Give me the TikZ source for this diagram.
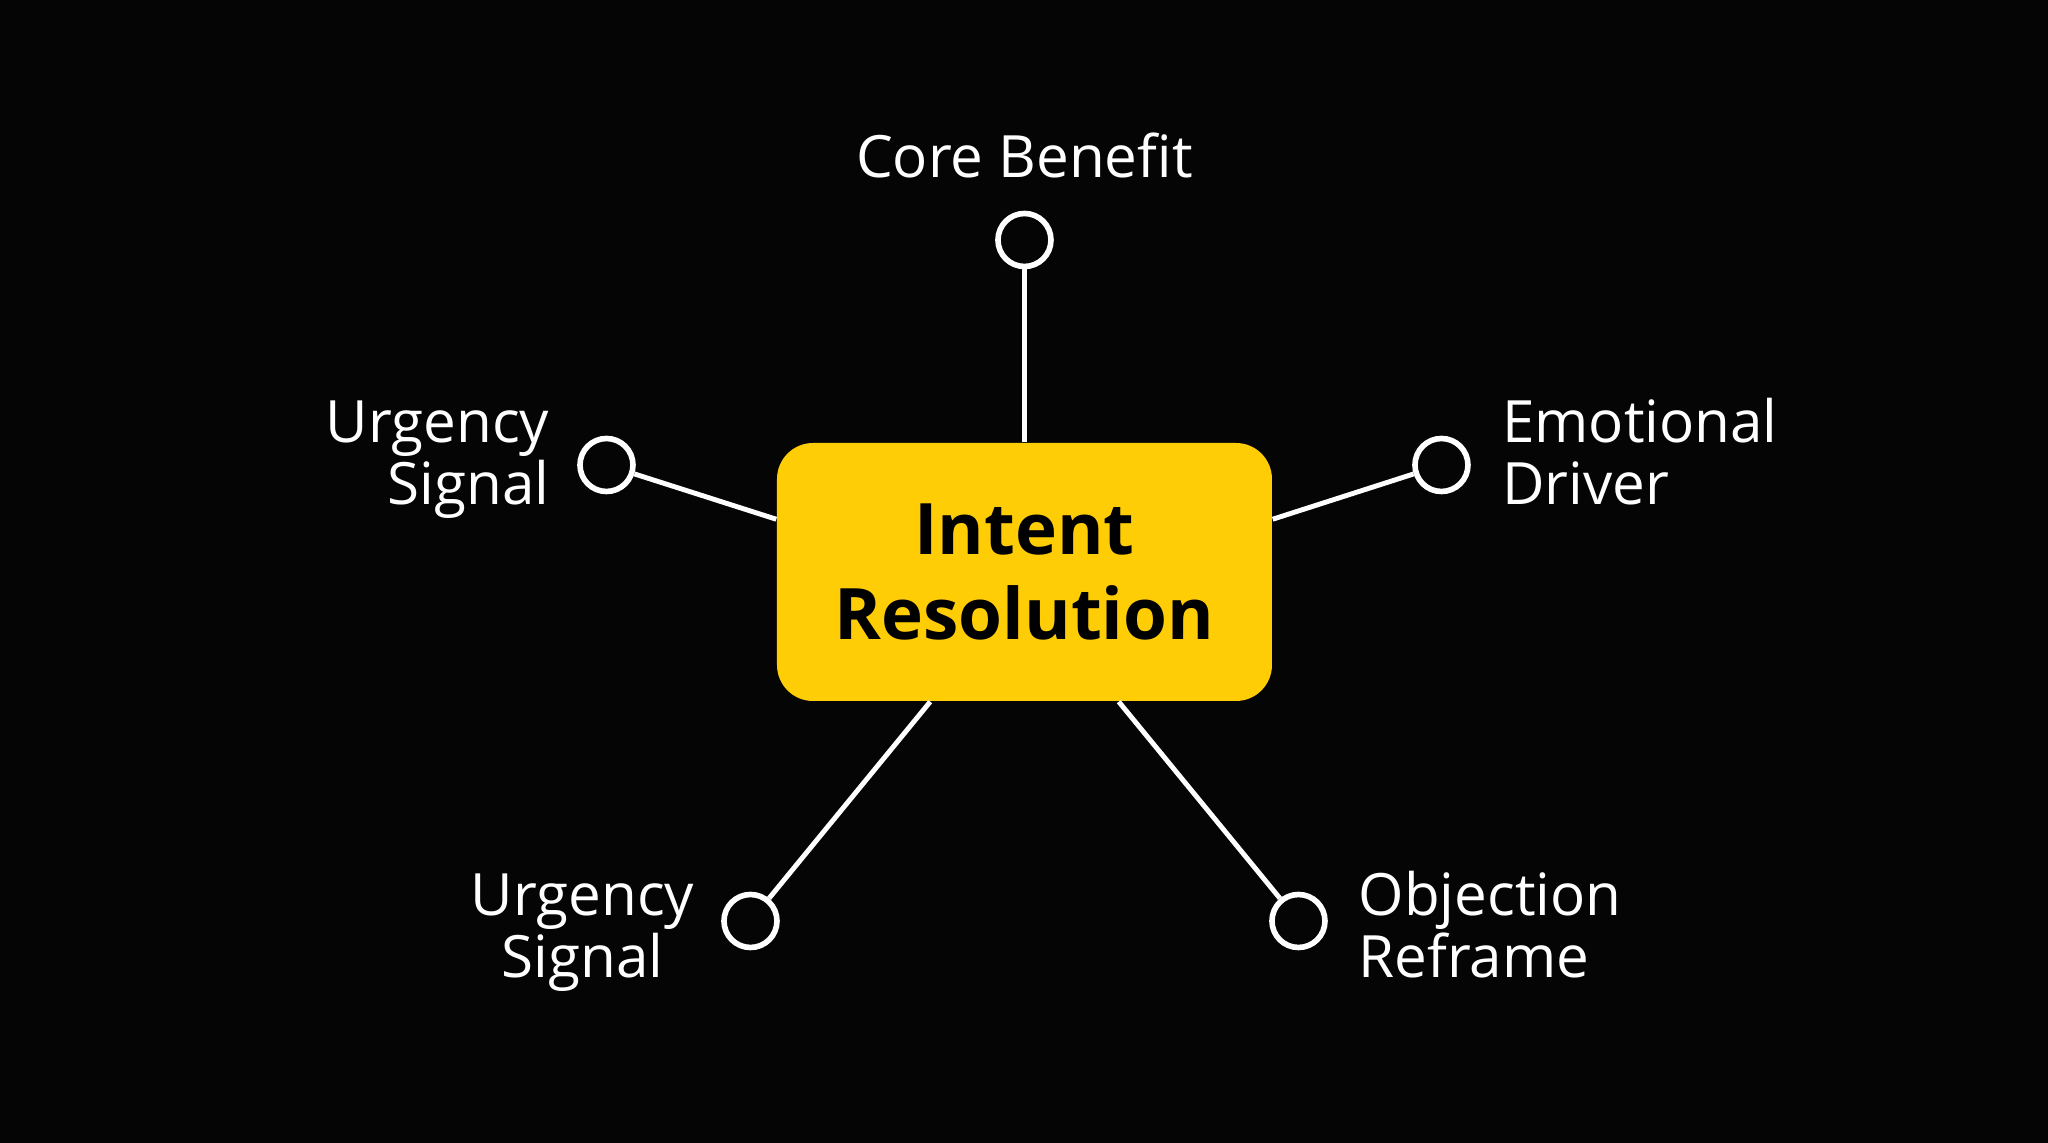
\documentclass[tikz,border=0pt]{standalone}
\usepackage{fontspec}
\setmainfont{Open Sans}
\usetikzlibrary{positioning}
\definecolor{hubyellow}{RGB}{255,205,5}
\definecolor{bgblack}{RGB}{5,5,5}

\begin{document}
\begin{tikzpicture}[
    hub/.style={fill=hubyellow, rounded corners=0.36cm, minimum width=4.95cm, minimum height=2.58cm, align=center, text=black, font=\fontsize{20.2}{24.2}\selectfont\bfseries},
    pin/.style={circle, draw=white, line width=1.6pt, fill=bgblack, minimum size=0.53cm, inner sep=0pt},
    lbl/.style={text=white, inner sep=0pt, font=\fontsize{16.6}{17.9}\selectfont},
    link/.style={-, white, line width=1.4pt},
  ]
  \fill[bgblack] (-10.245,-5.71) rectangle (10.235,5.72);
  \node[hub] (hub) at (0,0) {Intent\\Resolution};
  % pins round the hub
  \node[pin] (pcore) at (0,3.32) {};
  \node[pin] (purg1) at (-4.18,1.07) {};
  \node[pin] (pemo) at (4.17,1.07) {};
  \node[pin] (purg2) at (-2.74,-3.49) {};
  \node[pin] (pobj) at (2.74,-3.49) {};
  \draw[link] (hub.north) -- (pcore);
  \draw[link] (hub.168) -- (purg1);
  \draw[link] (hub.12) -- (pemo);
  \draw[link] (hub.234) -- (purg2);
  \draw[link] (hub.306) -- (pobj);
  % labels (base = last line)
  \node[lbl, anchor=base] (lcore) at (0,3.94) {Core Benefit};
  \node[lbl, align=right, anchor=base east] (lurg1) at (-4.745,0.67) {Urgency\\Signal};
  \node[lbl, align=left, anchor=base west] (lemo) at (4.77,0.67) {Emotional\\Driver};
  \node[lbl, align=center, anchor=base] (lurg2) at (-4.42,-4.06) {Urgency\\Signal};
  \node[lbl, align=left, anchor=base west] (lobj) at (3.335,-4.06) {Objection\\Reframe};
\end{tikzpicture}
\end{document}
